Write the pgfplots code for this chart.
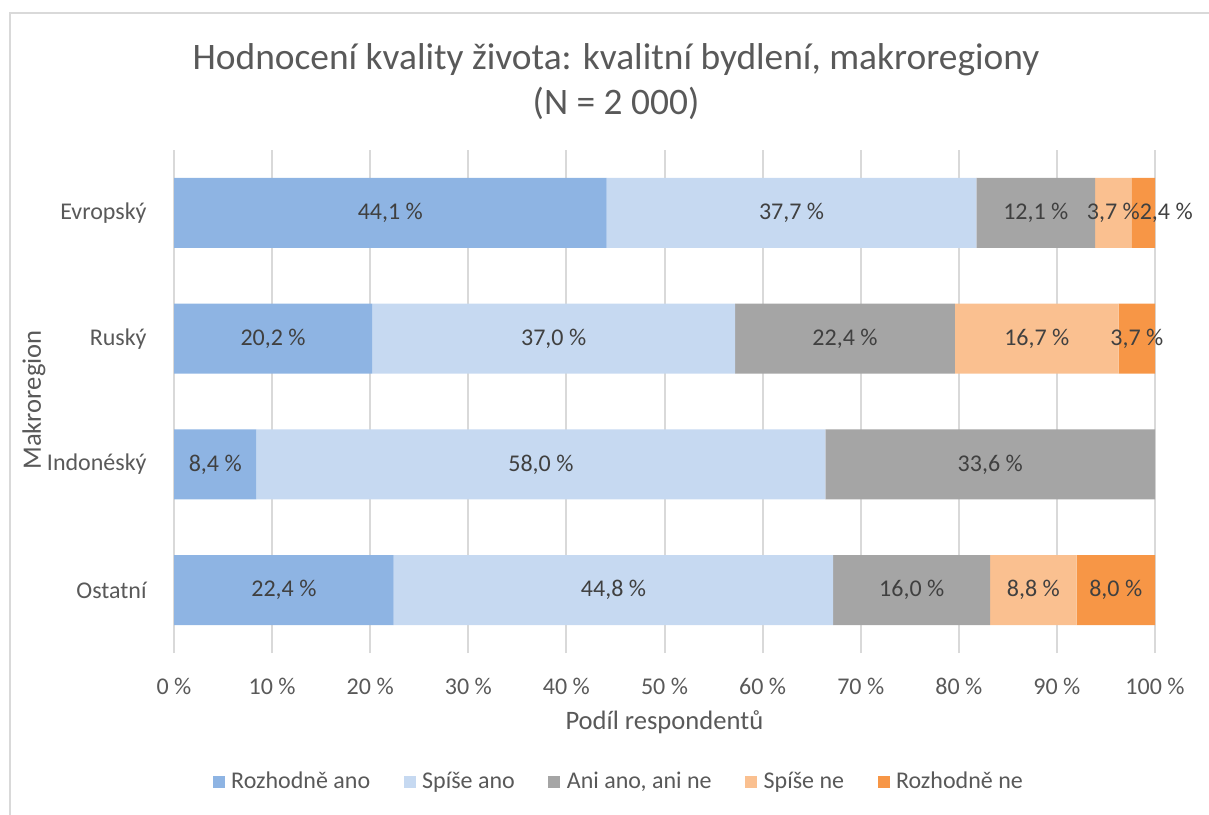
\documentclass[border=0pt]{standalone}
\usepackage{pgfplots}
\pgfplotsset{compat=1.18}
\usepackage{pgfplotstable}
\usepackage{fontspec}
\setmainfont{Carlito}
\definecolor{cA}{HTML}{8EB4E3}
\definecolor{cB}{HTML}{C6D9F1}
\definecolor{cC}{HTML}{A5A5A5}
\definecolor{cD}{HTML}{FAC090}
\definecolor{cE}{HTML}{F79646}
\definecolor{txt}{HTML}{595959}
\definecolor{lab}{HTML}{404040}
\definecolor{grd}{HTML}{D9D9D9}
% c: 3 = Evropsky, 2 = Rusky, 1 = Indonesky, 0 = Ostatni
\pgfplotstableread{
c v
3 44.1
2 20.2
1 8.4
0 22.4
}\rozhodneano
\pgfplotstableread{
c v
3 37.7
2 37.0
1 58.0
0 44.8
}\spiseano
\pgfplotstableread{
c v
3 12.1
2 22.4
1 33.6
0 16.0
}\ani
\pgfplotstableread{
c v
3 3.7
2 16.7
1 0
0 8.8
}\spisene
\pgfplotstableread{
c v
3 2.4
2 3.7
1 0
0 8.0
}\rozhodnene
\pgfplotsset{
  checkzero/.code={%
    \pgfmathfloatifflags{\pgfplotspointmeta}{0}{\pgfkeys{/tikz/coordinate}}{}%
  },
  % a label that would not fit is moved aside, as in the chart
  smallaside/.code={%
    \pgfmathfloatparsenumber{3}\let\mythree\pgfmathresult
    \pgfmathfloatlessthan{\pgfplotspointmeta}{\mythree}%
    \ifpgfmathfloatcomparison\pgfkeysalso{/tikz/xshift=11.5pt}\fi
  },
}
\begin{document}
\begin{tikzpicture}
\path[use as bounding box] (0pt,0pt) rectangle (604.5pt,407pt);
\draw[grd, line width=0.8pt] (5pt,-2pt) -- (5pt,400.5pt) -- (606pt,400.5pt);
\begin{axis}[
  at={(87pt,80.5pt)}, anchor=south west,
  scale only axis, width=490.5pt, height=251.5pt,
  xbar stacked, bar width=35pt,
  xmin=0, xmax=100, ymin=-0.5, ymax=3.5,
  xtick={0,10,...,100},
  ytick={0,1,2,3},
  yticklabels={Ostatní,Indonéský,Ruský,Evropský},
  xticklabel={\pgfmathprintnumber{\tick}~\%},
  /pgf/number format/assume math mode=true,
  axis line style={draw=none},
  major tick length=0pt,
  xmajorgrids, grid style={grd, line width=1pt},
  tick label style={font=\fontsize{12}{14}\selectfont, text=txt},
  xticklabel style={anchor=center, yshift=-16.5pt},
  yticklabel style={anchor=east, inner sep=0pt, xshift=-13.5pt},
  point meta=explicit,
  nodes near coords={\pgfmathprintnumber[fixed,fixed zerofill,precision=1,use comma]{\pgfplotspointmeta}~\%},
  every node near coord/.append style={/pgfplots/checkzero, anchor=center, font=\fontsize{12}{14}\selectfont, text=lab},
  legend style={at={(0.4557,-0.2565)}, anchor=center, draw=none, fill=none,
    legend columns=-1, font=\fontsize{12}{14}\selectfont, text=txt,
    nodes={inner ysep=1.5pt, inner xsep=3.25pt},
    /tikz/every even column/.append style={column sep=13.5pt}},
  legend image code/.code={\fill[#1] (0pt,-3pt) rectangle (6pt,3pt);},
]
\addplot[fill=cA, draw=none] table[x=v, y=c, meta=v] {\rozhodneano};
\addplot[fill=cB, draw=none] table[x=v, y=c, meta=v] {\spiseano};
\addplot[fill=cC, draw=none] table[x=v, y=c, meta=v] {\ani};
\addplot[fill=cD, draw=none] table[x=v, y=c, meta=v] {\spisene};
\addplot[fill=cE, draw=none,
  every node near coord/.append style={/pgfplots/smallaside}] table[x=v, y=c, meta=v] {\rozhodnene};
\legend{Rozhodně ano, Spíše ano, {Ani ano, ani ne}, Spíše ne, Rozhodně ne}
\end{axis}
\node[text=txt, font=\fontsize{18.7}{22.3}\selectfont, align=center] at (308pt,366.3pt) {Hodnocení kvality života: kvalitní bydlení, makroregiony\\(N = 2 000)};
\node[text=txt, font=\fontsize{13.3}{16}\selectfont] at (332.2pt,46pt) {Podíl respondentů};
\node[text=txt, font=\fontsize{13.3}{16}\selectfont, rotate=90] at (17pt,207pt) {Makroregion};
\end{tikzpicture}
\end{document}
